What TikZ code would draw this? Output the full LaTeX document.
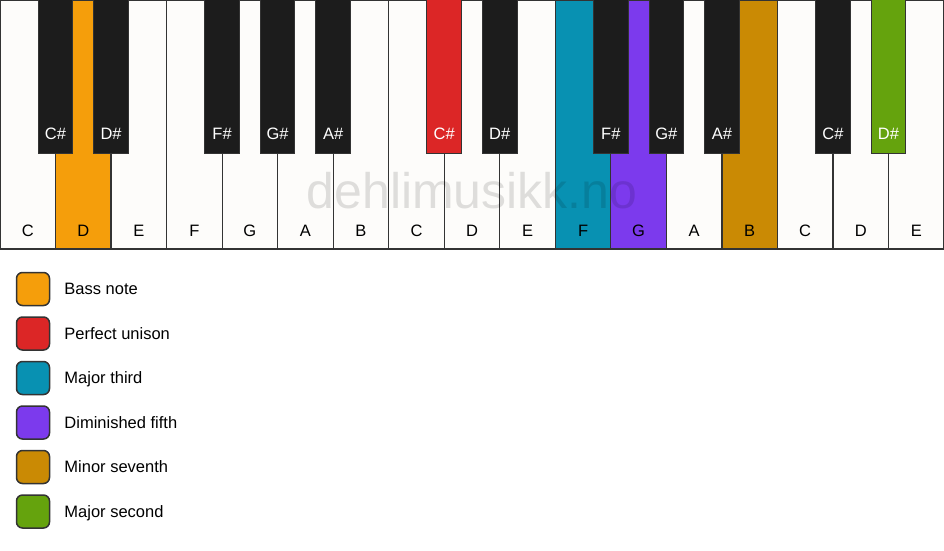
\documentclass[tikz,border=0pt]{standalone}
\usepackage{fontspec}
\setmainfont{Liberation Sans}
\usetikzlibrary{positioning}

\definecolor{keywhite}{HTML}{FDFCFA}
\definecolor{keyblack}{HTML}{1C1C1C}
\definecolor{keyline}{HTML}{333333}
\definecolor{bass}{HTML}{F59E0B}
\definecolor{unison}{HTML}{DC2626}
\definecolor{third}{HTML}{0891B2}
\definecolor{fifth}{HTML}{7C3AED}
\definecolor{seventh}{HTML}{CA8A04}
\definecolor{second}{HTML}{65A30D}

\tikzset{
  whitekey/.style={draw=keyline,line width=1.2pt},
  blackkey/.style={draw=keyline,line width=1pt},
  whitename/.style={text=black,anchor=base,inner sep=0pt,font=\fontsize{16.5}{20}\selectfont},
  blackname/.style={text=white,anchor=base,inner sep=0pt,font=\fontsize{16.5}{20}\selectfont},
  legendbox/.style={draw=keyline,line width=1.5pt,rounded corners=6pt,minimum size=33pt,inner sep=0pt},
  legendtext/.style={inner sep=0pt,anchor=base west,font=\fontsize{16.5}{20}\selectfont},
  watermark/.style={text=black,text opacity=0.12,font=\fontsize{50}{60}\selectfont}
}

\begin{document}
\begin{tikzpicture}[x=1pt,y=-1pt]
		\useasboundingbox (0,0) rectangle (944,550);
		\fill[white] (0,0) rectangle (944,550);
		% white keys
		\foreach \n/\c [count=\i from 0] in {C/keywhite,D/bass,E/keywhite,F/keywhite,G/keywhite,A/keywhite,B/keywhite,
		C/keywhite,D/keywhite,E/keywhite,F/third,G/fifth,A/keywhite,B/seventh,C/keywhite,D/keywhite,E/keywhite}
		{
		\draw[whitekey,fill=\c] (\i*55.53,0) rectangle (\i*55.53+55.53,249);
		\node[whitename] (white\i) at (\i*55.53+27.76,236) {\n};
		}
		% black keys
		\foreach \b/\n/\c in {1/C/keyblack,2/D/keyblack,4/F/keyblack,5/G/keyblack,6/A/keyblack,
		8/C/unison,9/D/keyblack,11/F/keyblack,12/G/keyblack,13/A/keyblack,15/C/keyblack,16/D/second}
		{
		\draw[blackkey,fill=\c] (\b*55.53-17.3,-1) rectangle (\b*55.53+17.3,153);
		\node[blackname] (black\b) at (\b*55.53,139) {\n\#};
		}
		\node[watermark] (mark) at (472,191) {dehlimusikk.no};
		% legend
		\foreach \c/\t [count=\k from 0] in {bass/Bass note,unison/Perfect unison,third/Major third,
		fifth/Diminished fifth,seventh/Minor seventh,second/Major second}
		{
		\node[legendbox,fill=\c] (box\k) at (33,289+\k*44.5) {};
		\node[legendtext] (text\k) at ([xshift=14pt,yshift=-5.8pt]box\k.east) {\t};
		}
		\end{tikzpicture}
\end{document}
